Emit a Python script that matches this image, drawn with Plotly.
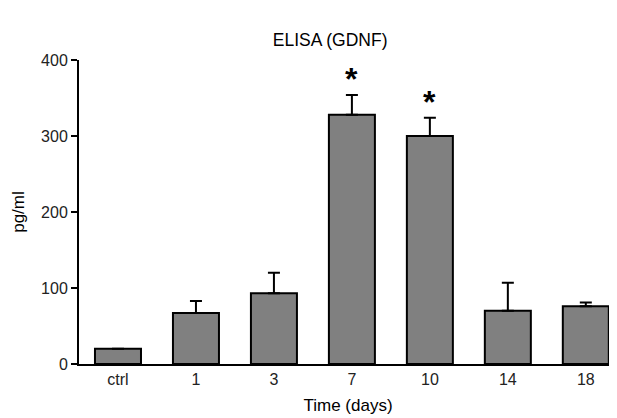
import plotly.graph_objects as go

categories = ["ctrl", "1", "3", "7", "10", "14", "18"]
values = [20, 67, 93, 328, 300, 70, 76]
errors = [0, 16, 27, 26, 24, 37, 5]
significant = [False, False, False, True, True, False, False]

fig = go.Figure()
fig.add_trace(go.Bar(
    x=categories, y=values,
    marker=dict(color="#808080", line=dict(color="black", width=2)),
    width=0.59,
    error_y=dict(type="data", array=errors, arrayminus=[0]*len(errors),
                 symmetric=False, color="black", thickness=2, width=6),
    showlegend=False,
))

for i, (v, e, s) in enumerate(zip(values, errors, significant)):
    if s:
        fig.add_annotation(x=i, y=v + e, xref="x", yref="y", text="<b>*</b>", showarrow=False,
                           yanchor="bottom", yshift=-4,
                           font=dict(size=32, color="black", family="Liberation Sans, Arial"))

# page body has an 8px default margin; compensate so the plot lands where the reference has it
fig.update_layout(
    width=609, height=410,
    margin=dict(l=71, r=0, t=52, b=54),
    plot_bgcolor="white", paper_bgcolor="white",
    title=dict(text="ELISA (GDNF)", x=0.529, xanchor="center", y=0.922, yanchor="middle",
               font=dict(size=17.5, color="black", family="Liberation Sans, Arial")),
    font=dict(family="Liberation Sans, Arial", color="black", size=16),
)
fig.update_xaxes(
    type="category",
    range=[-0.5, 6.4], showline=True, linecolor="black", linewidth=2,
    ticks="", showgrid=False, zeroline=False,
    title=dict(text="Time (days)", standoff=12, font=dict(size=17)),
    tickfont=dict(size=16, color="#222"),
)
fig.update_yaxes(
    range=[0, 400], showline=True, linecolor="black", linewidth=2,
    ticks="outside", ticklen=6, tickwidth=2, tickcolor="black",
    tickvals=[0, 100, 200, 300, 400], showgrid=False, zeroline=False,
    title=dict(text="pg/ml", standoff=12, font=dict(size=17)),
    tickfont=dict(size=16, color="#222"),
)

fig.write_html("out.html")
